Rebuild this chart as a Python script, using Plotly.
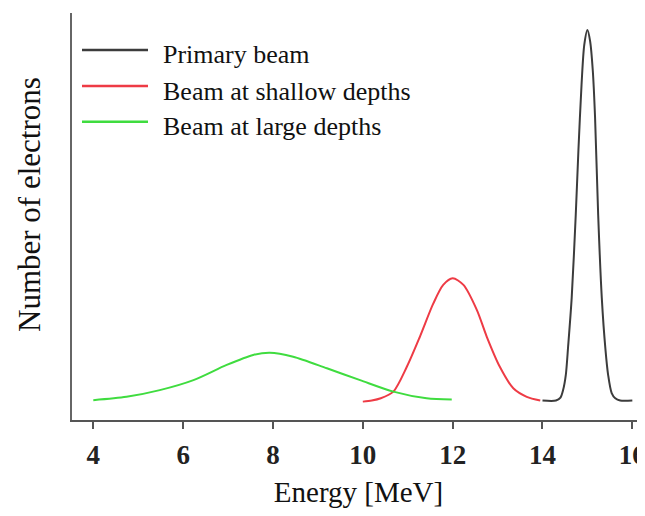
import plotly.graph_objects as go

# ---- data ----
primary_x = [14.0, 14.3, 14.4, 14.46, 14.52, 14.57, 14.65, 14.74, 14.80, 14.87, 14.93, 15.0,
             15.06, 15.12, 15.17, 15.24, 15.32, 15.40, 15.46, 15.54, 15.62, 15.73, 16.0]
primary_y = [0.0, 0.0, 0.008, 0.029, 0.07, 0.145, 0.277, 0.5, 0.676, 0.854, 0.96, 1.0,
             0.97, 0.89, 0.765, 0.5, 0.277, 0.14, 0.07, 0.02, 0.006, 0.0, 0.0]

shallow_x = [10.0, 10.2, 10.4, 10.68, 10.98, 11.27, 11.57, 11.79, 12.0, 12.24, 12.54, 12.76,
             13.05, 13.35, 13.65, 13.95]
shallow_y = [-0.003, 0.0, 0.006, 0.024, 0.091, 0.172, 0.262, 0.312, 0.330, 0.312, 0.244, 0.172,
             0.091, 0.033, 0.010, 0.0]

large_x = [4.0, 4.74, 5.48, 6.23, 6.97, 7.56, 7.93, 8.45, 9.20, 9.94, 10.68, 11.42, 11.98]
large_y = [0.001, 0.010, 0.028, 0.055, 0.096, 0.123, 0.129, 0.118, 0.087, 0.055, 0.024, 0.006, 0.003]

series_names = ["Primary beam", "Beam at shallow depths", "Beam at large depths"]
series_colors = ["#3c3c3c", "#ee3b45", "#3fdc3f"]
x_ticks = [4, 6, 8, 10, 12, 14, 16]

FONT = "Liberation Serif"

# the page body adds an 8px offset; work in window pixels and subtract it
OFF = 8
FIG_W, FIG_H = 645 - OFF, 516 - 2 * OFF
L, T, B = 72 - OFF, 13 - OFF, 420 - OFF          # plot-area edges in figure pixels
PW, PH = FIG_W - L, B - T

def px(x):
    return (x - OFF - L) / PW
def py(y):
    return (B - (y - OFF)) / PH

fig = go.Figure()
for xs, ys, name, col in [(primary_x, primary_y, series_names[0], series_colors[0]),
                          (shallow_x, shallow_y, series_names[1], series_colors[1]),
                          (large_x, large_y, series_names[2], series_colors[2])]:
    fig.add_trace(go.Scatter(x=xs, y=ys, mode="lines", name=name,
                             line=dict(color=col, width=2, shape="spline", smoothing=0.8),
                             showlegend=False))

# manual legend (long line samples like the reference)
legend_rows = [50, 86, 121.7]
for name, col, yrow in zip(series_names, series_colors, legend_rows):
    fig.add_shape(type="line", xref="paper", yref="paper",
                  x0=px(82), x1=px(148), y0=py(yrow), y1=py(yrow),
                  line=dict(color=col, width=2.5))
    fig.add_annotation(xref="paper", yref="paper", x=px(161), y=py(yrow + 5),
                       xanchor="left", yanchor="middle", showarrow=False, text=name,
                       font=dict(family=FONT, size=26, color="#111"))

fig.add_annotation(xref="paper", yref="paper", x=px(29), y=py(205), textangle=-90,
                   xanchor="center", yanchor="middle", showarrow=False,
                   text="Number of electrons", font=dict(family=FONT, size=31, color="#111"))

fig.update_layout(
    width=FIG_W, height=FIG_H,
    margin=dict(l=L, r=0, t=T, b=FIG_H - B, pad=0),
    paper_bgcolor="white", plot_bgcolor="white",
    xaxis=dict(range=[3.526, 16.282], tickvals=x_ticks, ticktext=[str(v) for v in x_ticks],
               showline=True, linecolor="#555", linewidth=2, mirror=False,
               ticks="outside", ticklen=7, tickwidth=2, tickcolor="#555",
               ticklabelstandoff=3, ticklabeloverflow="allow",
               showgrid=False, zeroline=False,
               tickfont=dict(family=FONT, size=27, color="#222", weight="bold"),
               title=dict(text="Energy [MeV]", font=dict(family=FONT, size=29, color="#111"),
                          standoff=16)),
    yaxis=dict(range=[-0.0526, 1.046], showticklabels=False, ticks="",
               showline=True, linecolor="#666", linewidth=2,
               showgrid=False, zeroline=False),
)

fig.write_html("out.html")
